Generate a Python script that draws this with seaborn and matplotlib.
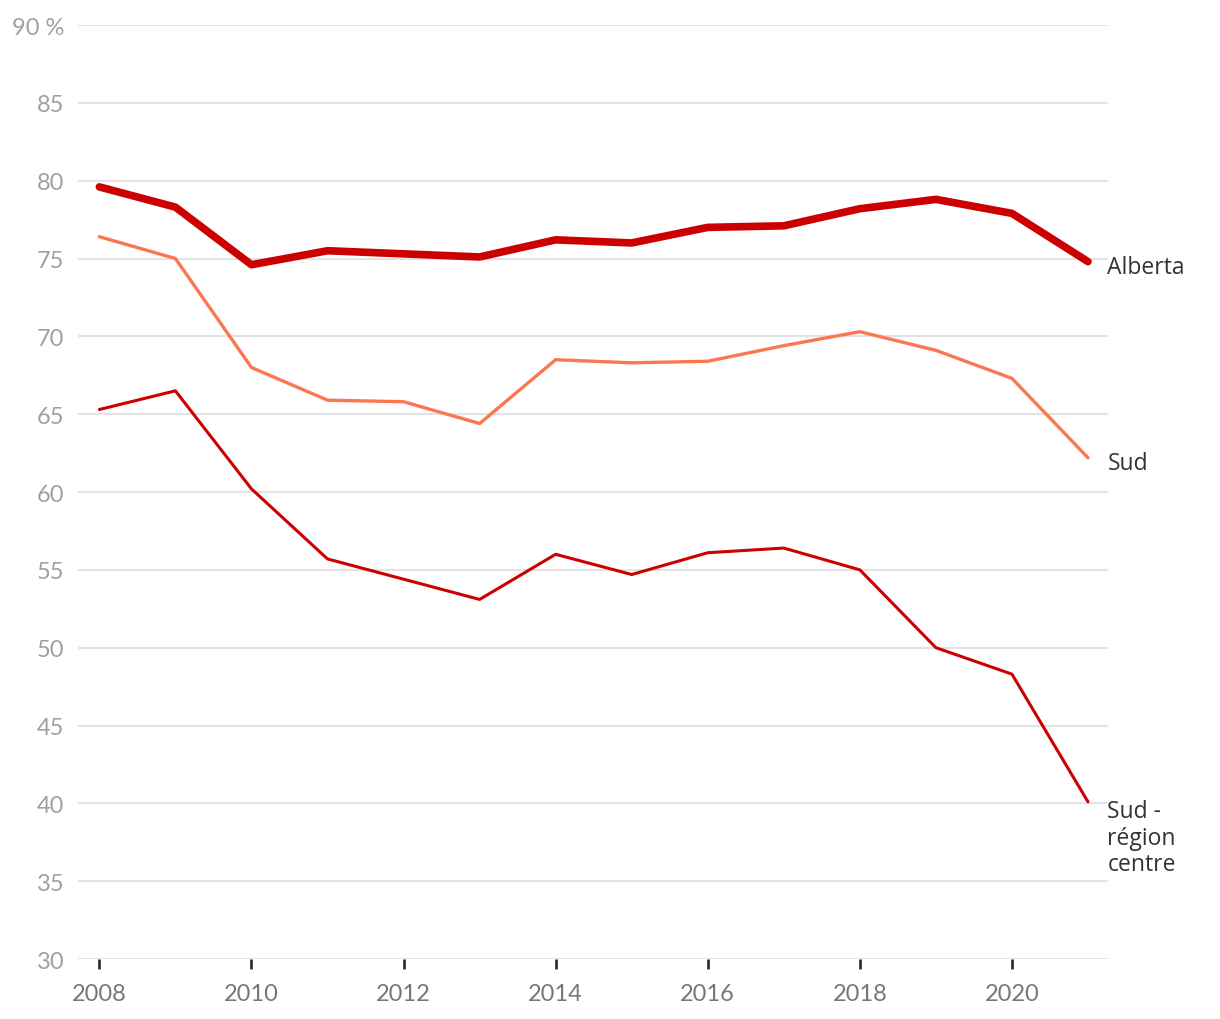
import pandas as pd
import matplotlib.pyplot as plt
import seaborn as sns

years = list(range(2008, 2022))
alberta = [79.6, 78.3, 74.6, 75.5, 75.3, 75.1, 76.2, 76.0, 77.0, 77.1, 78.2, 78.8, 77.9, 74.8]
sud = [76.4, 75.0, 68.0, 65.9, 65.8, 64.4, 68.5, 68.3, 68.4, 69.4, 70.3, 69.1, 67.3, 62.2]
sud_centre = [65.3, 66.5, 60.2, 55.7, 54.4, 53.1, 56.0, 54.7, 56.1, 56.4, 55.0, 50.0, 48.3, 40.1]

series_names = ["Alberta", "Sud", "Sud -\nrégion\ncentre"]

df = pd.DataFrame({"year": years, "Alberta": alberta, "Sud": sud, "Sud -\nrégion\ncentre": sud_centre})
long = df.melt(id_vars="year", var_name="serie", value_name="value")

sns.set_style("white")
plt.rcParams["font.family"] = ["Lato", "DejaVu Sans"]

fig = plt.figure(figsize=(12.2, 10.2), dpi=100)
ax = fig.add_axes([0.064, 0.0588, 0.844, 0.9157])

colors = {"Alberta": "#cc0000", "Sud": "#fb7752", "Sud -\nrégion\ncentre": "#cc0000"}
widths = {"Alberta": 5.5, "Sud": 2.4, "Sud -\nrégion\ncentre": 2.2}

for name in series_names:
    sub = long[long["serie"] == name]
    sns.lineplot(data=sub, x="year", y="value", color=colors[name],
                 linewidth=widths[name], ax=ax, solid_capstyle="round",
                 solid_joinstyle="round")
    last = sub.iloc[-1]
    multi = "\n" in name
    ax.annotate(name, xy=(last["year"], last["value"]),
                xytext=(14, 2 if multi else -4),
                textcoords="offset points", va="top" if multi else "center",
                ha="left", fontsize=16.5, color="#333333",
                family=["Open Sans", "DejaVu Sans"], linespacing=1.15,
                annotation_clip=False)

ax.set_xlim(2007.72, 2021.26)
ax.set_ylim(30, 90)
ax.set_yticks(range(30, 91, 5))
ax.set_yticklabels([str(v) if v < 90 else "90 %" for v in range(30, 91, 5)])
ax.set_xticks(range(2008, 2021, 2))
ax.grid(axis="y", color="#e3e3e3", linewidth=1.5)
ax.set_axisbelow(True)
for s in ax.spines.values():
    s.set_visible(False)
ax.tick_params(axis="y", length=0, pad=10, labelsize=17, labelcolor="#a0a0a0")
ax.tick_params(axis="x", length=7, width=2.0, color="#333333", direction="out",
               pad=10, labelsize=17, labelcolor="#777777", bottom=True)
ax.set_xlabel("")
ax.set_ylabel("")

fig.savefig("out.png", dpi=100)
